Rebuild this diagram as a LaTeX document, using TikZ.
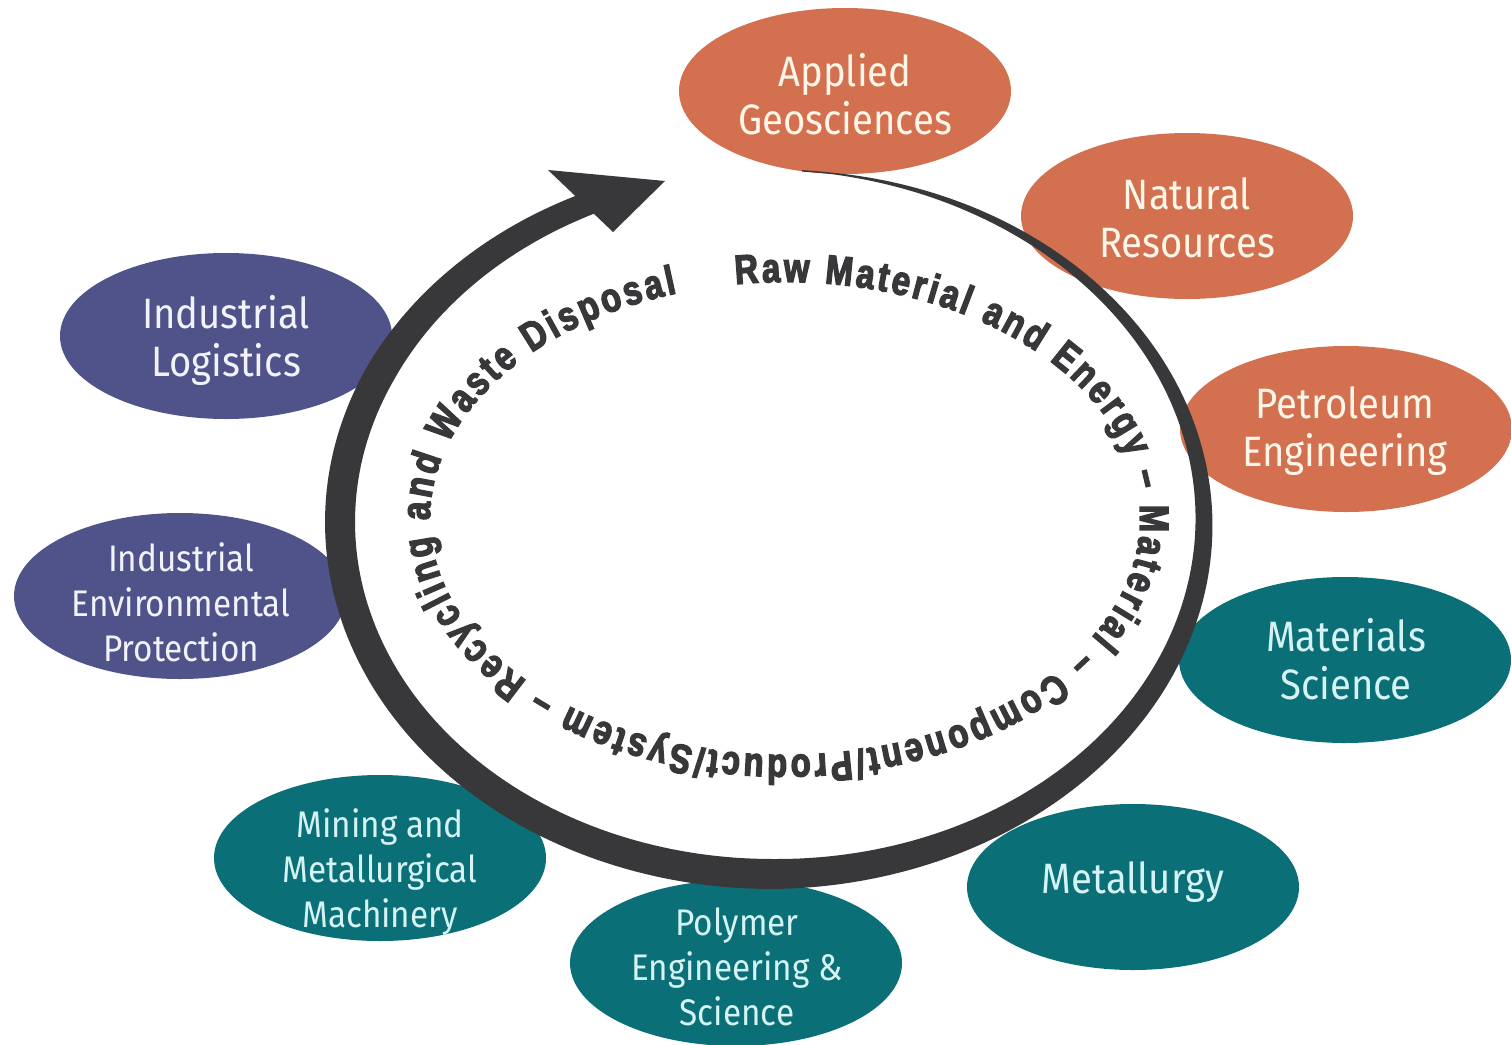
\documentclass[tikz,border=0pt]{standalone}
\usepackage{fontspec}
\usetikzlibrary{shapes.geometric,decorations.text}
\newfontfamily\lblfont[FakeStretch=0.9]{Fira Sans}
\newfontfamily\arcfont[FakeStretch=0.8,FakeBold=3.2]{Liberation Sans Bold}
\definecolor{ocol}{HTML}{D2704F}
\definecolor{pcol}{HTML}{4F5389}
\definecolor{tcol}{HTML}{0B6F78}
\definecolor{scol}{HTML}{38383B}
\definecolor{owt}{HTML}{FFF6EA}
\definecolor{twt}{HTML}{D6F3F3}
\definecolor{pwt}{HTML}{F2F2FA}
\tikzset{
  blob/.style={ellipse, draw=none, minimum width=332pt, minimum height=166pt, inner sep=0pt},
  lbl/.style={align=center, inner sep=0pt, font=\lblfont\fontsize{42.5pt}{48pt}\selectfont, text=#1},
  lblsmall/.style={align=center, inner sep=0pt, font=\lblfont\fontsize{37pt}{45pt}\selectfont, text=#1},
  ringstroke/.style={fill=scol, draw=none},
  declare function={ww(\t)=max(1.5, 30*pow(min(1,max(0.01,(86-\t)/176)),0.8) - 7*max(0,(-205-\t)/41.5));}
}
\begin{document}
\begin{tikzpicture}[x=1pt,y=-1pt]
\useasboundingbox (0,0) rectangle (1511,1044);
\fill[white] (0,0) rectangle (1511,1044);
% ellipses
\node[blob, fill=ocol] (geo) at (845,91) {};
\node[blob, fill=ocol] (nat) at (1187,216) {};
\node[blob, fill=ocol] (pet) at (1346,429) {};
\node[blob, fill=tcol] (mat) at (1345,660) {};
\node[blob, fill=tcol] (met) at (1133,887) {};
\node[blob, fill=tcol] (pol) at (736,963) {};
\node[blob, fill=tcol] (min) at (380,858) {};
\node[blob, fill=pcol] (env) at (180,596) {};
\node[blob, fill=pcol] (log) at (226,336) {};
% labels
\node[lbl=owt] (geoT) at (845,94) {Applied\\Geosciences};
\node[lbl=owt] (natT) at (1187,218) {Natural\\Resources};
\node[lbl=owt] (petT) at (1345,431) {Petroleum\\Engineering};
\node[lbl=twt] (matT) at (1346,659) {Materials\\Science};
\node[lbl=twt] (metT) at (1133,882) {Metallurgy};
\node[lblsmall=twt] (polT) at (737,967) {Polymer\\Engineering \&\\Science};
\node[lblsmall=twt] (minT) at (380,872) {Mining and\\Metallurgical\\Machinery};
\node[lblsmall=pwt] (envT) at (181,602) {Industrial\\Environmental\\Protection};
\node[lbl=pwt] (logT) at (226,340) {Industrial\\Logistics};
% brush ring
\fill[ringstroke] plot[domain=86:-246.5, samples=260] ({772+(432+ww(\x)/2)*cos(\x)}, {522-(352+ww(\x)/2)*sin(\x)})
  -- plot[domain=-246.5:86, samples=260] ({772+(432-ww(\x)/2)*cos(\x)}, {522-(352-ww(\x)/2)*sin(\x)}) -- cycle;
\fill[ringstroke] (548,170) -- (665,181) -- (613,232) -- cycle;
% text along the ring
\path[decorate, decoration={text along path, text align=fit to path, text color=scol,
  text={|\arcfont\fontsize{41pt}{41pt}\selectfont|Raw Material and Energy – Material – Component/Product/System – Recycling and Waste Disposal}}]
  (785,518.5) ++(-98:355 and 236.5) arc[start angle=-98, end angle=252.3, x radius=355, y radius=236.5];
\end{tikzpicture}
\end{document}
